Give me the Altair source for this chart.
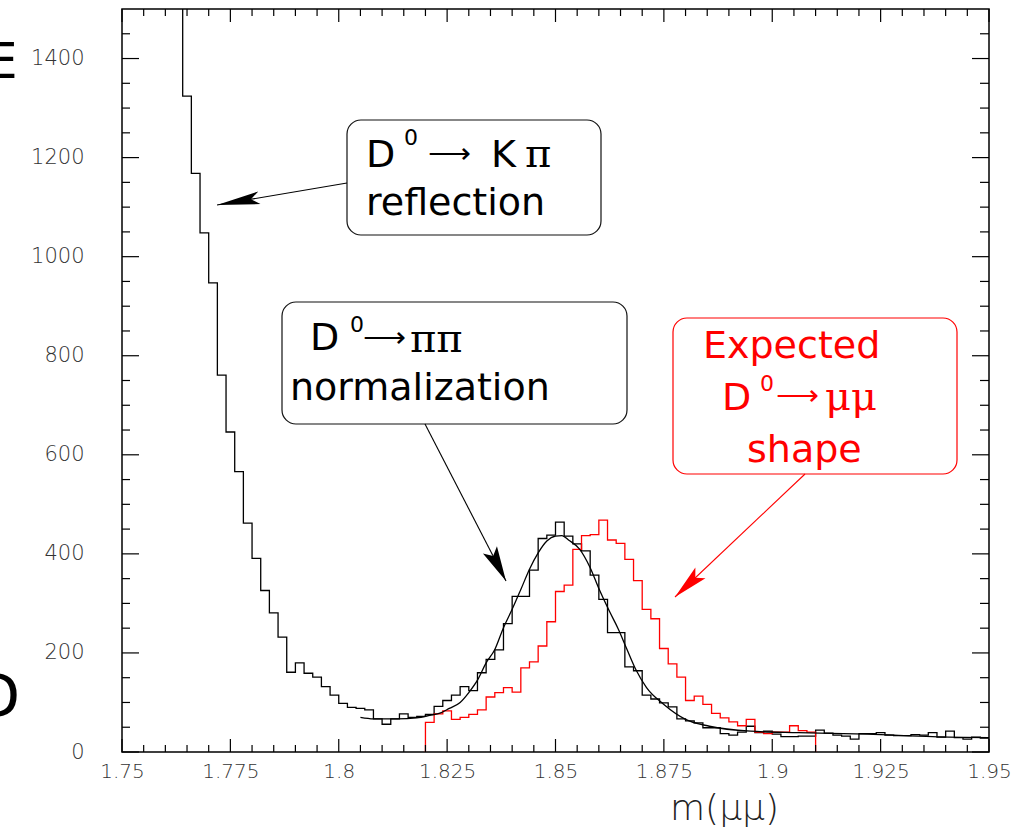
import altair as alt
import pandas as pd

# ------------------------------------------------------------------ data
bin_start = 1.75
bin_width = 0.002

# black histogram (100 bins of 2 MeV, 1.75 - 1.95); first 7 bins are off scale
black_counts = [3800, 3300, 2800, 2400, 2050, 1800, 1600, 1324, 1168, 1048,
                947, 761, 646, 566, 462, 391, 326, 281, 232, 161,
                180, 159, 151, 132, 115, 98, 90, 88, 85, 67,
                56, 67, 77, 70, 72, 76, 92, 104, 115, 132,
                124, 160, 187, 206, 259, 314, 314, 367, 431, 438,
                464, 436, 420, 406, 357, 308, 241, 241, 172, 164,
                115, 107, 99, 91, 67, 63, 59, 49, 49, 37,
                34, 40, 52, 39, 42, 36, 31, 31, 32, 32,
                44, 38, 34, 32, 26, 37, 37, 39, 34, 33,
                33, 35, 34, 39, 30, 42, 29, 26, 30, 28]

# red histogram (expected D0 -> mu mu shape), bins 35 .. 79
red_first_bin = 35
red_counts = [60, 77, 83, 66, 70, 76, 85, 111, 120, 130,
              121, 170, 182, 214, 263, 324, 337, 409, 437, 439,
              468, 428, 421, 389, 346, 288, 269, 209, 178, 151,
              104, 113, 96, 78, 69, 61, 53, 66, 40, 37,
              40, 40, 53, 43, 40]

# fitted curve
fit_mass = [1.805, 1.808, 1.8135, 1.818, 1.821, 1.8235, 1.8255, 1.828, 1.830,
            1.832, 1.834, 1.836, 1.838, 1.840, 1.842, 1.844, 1.846, 1.848,
            1.850, 1.8515, 1.853, 1.8555, 1.858, 1.860, 1.8625, 1.8645,
            1.8665, 1.8685, 1.871, 1.875, 1.880, 1.8855, 1.895, 1.906,
            1.922, 1.937, 1.95]
fit_counts = [70, 67, 67, 69, 74, 79, 88, 100, 120,
              145, 180, 207, 251, 288, 328, 369, 402, 426,
              436, 437, 428, 410, 372, 330, 283, 248,
              207, 167, 130, 96, 66, 52, 42, 39,
              36, 31, 29]

x_major_ticks = [1.75, 1.775, 1.8, 1.825, 1.85, 1.875, 1.9, 1.925, 1.95]
y_major_ticks = [0, 200, 400, 600, 800, 1000, 1200, 1400]
x_minor_ticks = [round(1.75 + 0.005 * k, 3) for k in range(41) if k % 5 != 0]
y_minor_ticks = [50 * k for k in range(30) if k % 4 != 0]

# ------------------------------------------------------------------ geometry helpers
W, H = 867, 743
X0, X1 = 1.75, 1.95
Y0, Y1 = 0, 1500
LEFT, TOP = 122, 9


def mx(px):
    return X0 + (px - LEFT) / W * (X1 - X0)


def vy(py):
    return (TOP + H - py) / H * (Y1 - Y0)


xs = alt.Scale(domain=[X0, X1], nice=False, zero=False)
ys = alt.Scale(domain=[Y0, Y1], nice=False, zero=False)

AX_X = alt.Axis(
    values=x_major_ticks, labelExpr="format(datum.value, '.4~g')",
    ticks=False, tickSize=0, domain=False, grid=False,
    labelFont="DejaVu Sans", labelFontSize=20, labelFontWeight=300, labelColor="#333",
    labelPadding=9, labelOverlap=False, labelFlush=False,
    title="m(μμ)", titleFont="DejaVu Sans", titleFontSize=36, titleFontWeight=300,
    titleColor="#222", titleX=602, titleY=67, titleAlign="center", titleBaseline="alphabetic")
AX_Y = alt.Axis(
    values=y_major_ticks, format="d", ticks=False, tickSize=0, domain=False, grid=False,
    labelFont="DejaVu Sans", labelFontSize=21, labelFontWeight=300, labelColor="#333",
    labelPadding=38, labelOverlap=False, labelFlush=False, title=None)


def X(field):
    return alt.X(field, scale=xs, axis=AX_X)


def Y(field):
    return alt.Y(field, scale=ys, axis=AX_Y)


# ------------------------------------------------------------------ tables
rows = []
for i, c in enumerate(black_counts):
    rows.append({"m": round(bin_start + i * bin_width, 4), "n": c, "o": i})
rows.append({"m": round(bin_start + len(black_counts) * bin_width, 4), "n": black_counts[-1], "o": len(black_counts)})
black_df = pd.DataFrame(rows)

rows = [{"m": round(bin_start + red_first_bin * bin_width, 4), "n": 0, "o": -1}]
for j, c in enumerate(red_counts):
    rows.append({"m": round(bin_start + (red_first_bin + j) * bin_width, 4), "n": c, "o": j})
rows.append({"m": round(bin_start + (red_first_bin + len(red_counts)) * bin_width, 4), "n": 0, "o": len(red_counts)})
red_df = pd.DataFrame(rows)

fit_df = pd.DataFrame({"m": fit_mass, "n": fit_counts})

# ------------------------------------------------------------------ layers
black_hist = alt.Chart(black_df).mark_line(
    interpolate="step-after", color="black", strokeWidth=1.3, clip=True
).encode(x=X("m:Q"), y=Y("n:Q"), order="o:Q")

red_hist = alt.Chart(red_df).mark_line(
    interpolate="step-after", color="#ff0000", strokeWidth=1.3, clip=True
).encode(x=X("m:Q"), y=Y("n:Q"), order="o:Q")

fit_line = alt.Chart(fit_df).mark_line(
    interpolate="monotone", color="black", strokeWidth=1.3, clip=True
).encode(x=X("m:Q"), y=Y("n:Q"))

# annotation boxes
box_df = pd.DataFrame({
    "x": [mx(347), mx(282), mx(673)],
    "x2": [mx(601), mx(627), mx(957)],
    "y": [vy(120), vy(302), vy(318)],
    "y2": [vy(235), vy(424), vy(474)],
    "c": ["#111111", "#111111", "#ff0000"],
})
boxes = alt.Chart(box_df).mark_rect(cornerRadius=14, fill="white", strokeWidth=1.2).encode(
    x=X("x:Q"), x2="x2:Q", y=Y("y:Q"), y2="y2:Q",
    stroke=alt.Stroke("c:N", scale=None),
)

# arrows
arrow_df = pd.DataFrame({
    "x": [mx(347), mx(425), mx(805)],
    "y": [vy(183), vy(424), vy(474)],
    "x2": [mx(217), mx(506), mx(675)],
    "y2": [vy(205), vy(581), vy(597)],
    "c": ["black", "black", "#ff0000"],
    "ang": [260.3, 152.7, 226.6],
    "sz": [1849, 1225, 1225],
    "shp": ["M0,0 L-0.3,2 L0,1.6 L0.3,2 Z",
            "M0,0 L-0.45,2 L0,1.6 L0.45,2 Z",
            "M0,0 L-0.42,2 L0,1.6 L0.42,2 Z"],
})
arrow_lines = alt.Chart(arrow_df).mark_rule(strokeWidth=1.1).encode(
    x=X("x:Q"), x2="x2:Q", y=Y("y:Q"), y2="y2:Q",
    color=alt.Color("c:N", scale=None),
)
arrow_heads = alt.Chart(arrow_df).mark_point(filled=True, opacity=1, strokeWidth=0).encode(
    x=X("x2:Q"), y=Y("y2:Q"),
    color=alt.Color("c:N", scale=None),
    angle=alt.Angle("ang:Q", scale=None),
    size=alt.Size("sz:Q", scale=None),
    shape=alt.Shape("shp:N", scale=None),
)

# annotation texts
sans_df = pd.DataFrame({
    "t": ["D", "0", "K", "reflection", "D", "0", "normalization",
          "Expected", "D", "0", "shape"],
    "x": [mx(366), mx(404), mx(491), mx(366), mx(310), mx(350), mx(290),
          mx(703), mx(722), mx(760), mx(747)],
    "y": [vy(167), vy(145), vy(167), vy(215), vy(350), vy(332), vy(400),
          vy(358), vy(410), vy(391), vy(462)],
    "fs": [38, 22, 38, 38, 38, 22, 38, 38, 38, 22, 38],
    "c": ["black"] * 7 + ["#ff0000"] * 4,
})
serif_df = pd.DataFrame({
    "t": ["π", "ππ", "μμ"],
    "x": [mx(525), mx(410), mx(825)],
    "y": [vy(167), vy(352), vy(410)],
    "fs": [40, 40, 40],
    "c": ["black", "black", "#ff0000"],
})
arrowglyph_df = pd.DataFrame({
    "t": ["⟶", "⟶", "⟶"],
    "x": [mx(428), mx(363), mx(776)],
    "y": [vy(163), vy(347), vy(405)],
    "fs": [30, 30, 30],
    "c": ["black", "black", "#ff0000"],
})
# fragments of the y-axis title that are cut off by the left page edge
cut_df = pd.DataFrame({
    "t": ["E", "D"],
    "x": [mx(-14), mx(-26)],
    "y": [vy(78), vy(717)],
    "fs": [50, 60],
    "c": ["black", "black"],
})


def text_layer(df, font, weight="normal"):
    return alt.Chart(df).mark_text(align="left", baseline="alphabetic", font=font,
                                   fontWeight=weight).encode(
        x=X("x:Q"), y=Y("y:Q"),
        text="t:N",
        size=alt.Size("fs:Q", scale=None),
        color=alt.Color("c:N", scale=None),
    )


texts_sans = text_layer(sans_df, "DejaVu Sans")
texts_serif = text_layer(serif_df, "DejaVu Serif")
texts_arrow = text_layer(arrowglyph_df, "DejaVu Sans", "lighter")
texts_cut = text_layer(cut_df, "DejaVu Sans")


# inward ticks on all four sides
def vticks(vals, top, length):
    d = pd.DataFrame({"t": vals})
    if top:
        y1, y2 = 0, length
    else:
        y1, y2 = H, H - length
    return alt.Chart(d).mark_rule(color="black", strokeWidth=1.2).encode(
        x=X("t:Q"), y=alt.value(y1), y2=alt.value(y2))


def hticks(vals, right, length):
    d = pd.DataFrame({"t": vals})
    if right:
        x1, x2 = W, W - length
    else:
        x1, x2 = 0, length
    return alt.Chart(d).mark_rule(color="black", strokeWidth=1.2).encode(
        y=Y("t:Q"), x=alt.value(x1), x2=alt.value(x2))


ticks = [
    vticks(x_major_ticks, False, 13), vticks(x_minor_ticks, False, 7),
    vticks(x_major_ticks, True, 13), vticks(x_minor_ticks, True, 7),
    hticks(y_major_ticks, False, 17), hticks(y_minor_ticks, False, 8),
    hticks(y_major_ticks, True, 17), hticks(y_minor_ticks, True, 9),
]

chart = alt.layer(
    black_hist, red_hist, fit_line, boxes, arrow_lines, arrow_heads,
    texts_sans, texts_serif, texts_arrow, texts_cut, *ticks
).properties(
    width=W, height=H,
    autosize=alt.AutoSizeParams(type="none"),
    padding={"left": LEFT, "top": TOP, "right": 1031 - LEFT - W, "bottom": 829 - TOP - H},
    background="white",
).configure_view(
    stroke="black", strokeWidth=1.5
)

chart.save("out.html", embed_options={"renderer": "svg", "actions": False})
